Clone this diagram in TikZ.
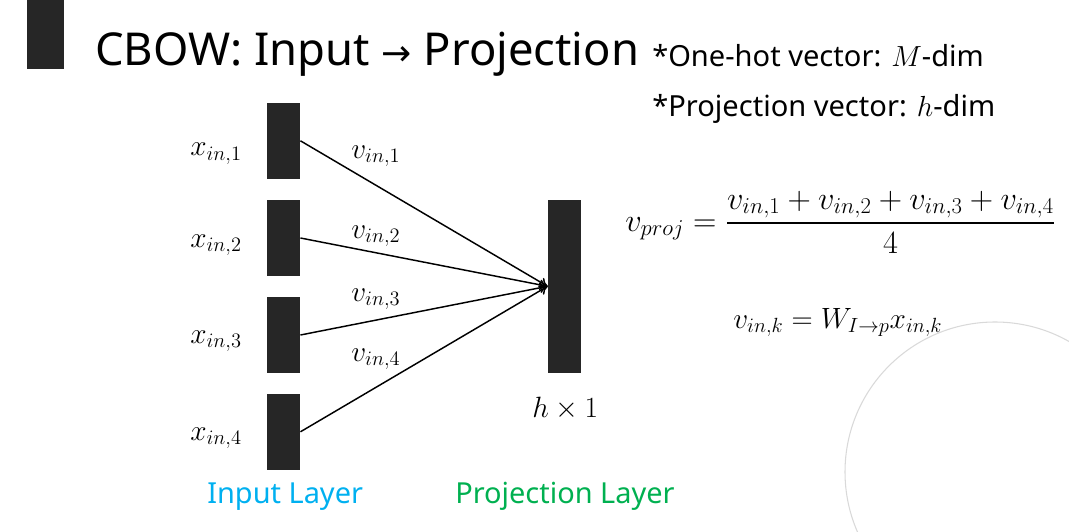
\RequirePackage{fix-cm}
\documentclass[tikz,border=0pt]{standalone}
\usepackage{amsmath}
\usepackage{fontspec}
\setmainfont{Noto Sans}
\newfontfamily\arrowfont{DejaVu Sans}
\usetikzlibrary{arrows.meta}
\definecolor{blk}{HTML}{262626}
\definecolor{incol}{HTML}{00B0F0}
\definecolor{projcol}{HTML}{00B050}
\begin{document}
\begin{tikzpicture}[x=0.75pt,y=-0.75pt,
  bar/.style={draw=none,fill=blk,inner sep=0pt,minimum width=25pt},
  inbar/.style={bar,minimum height=56.6pt},
  conn/.style={line width=1.1pt,-{To[length=6pt,width=8pt]}},
  mlab/.style={font=\fontsize{22}{26}\selectfont,inner sep=0pt,anchor=base west},
  txt/.style={inner sep=0pt,anchor=base west}]
\useasboundingbox (0,0) rectangle (1069,531);
\begin{scope}
\clip (0,0) rectangle (1069,531);
\draw[black!15,line width=0.8pt] (995,472) circle[radius=150];
\end{scope}
% title
\node[bar,minimum width=27.75pt,minimum height=52pt] (tbar) at (45.5,34.5) {};
\node[txt,font=\fontsize{34}{40}\selectfont] (title) at (95,66) {CBOW: Input {\arrowfont\fontsize{27}{30}\selectfont →} Projection};
\node[txt,font=\fontsize{21.8}{24}\selectfont] (n1) at (652,67) {*One-hot vector: $M$-dim};
\node[txt,font=\fontsize{21.8}{24}\selectfont] (n2) at (652,117) {*Projection vector: $h$-dim};
% bars
\node[inbar] (in1) at (283.5,140.8) {};
\node[inbar] (in2) at (283.5,238) {};
\node[inbar] (in3) at (283.5,335) {};
\node[inbar] (in4) at (283.5,431.8) {};
\node[bar,minimum height=129.5pt] (proj) at (564.5,286.3) {};
% connectors
\foreach \i in {1,...,4} \draw[conn] (in\i.east) -- (proj.west);
% labels
\node[mlab] (x1) at (190,156) {$x_{in,1}$};
\node[mlab] (x2) at (190,247) {$x_{in,2}$};
\node[mlab] (x3) at (190,343) {$x_{in,3}$};
\node[mlab] (x4) at (190,440) {$x_{in,4}$};
\node[mlab] (v1) at (351,158) {$v_{in,1}$};
\node[mlab] (v2) at (351,238) {$v_{in,2}$};
\node[mlab] (v3) at (351,301) {$v_{in,3}$};
\node[mlab] (v4) at (351,361) {$v_{in,4}$};
\node[mlab] (hx1) at (532,417) {$h\times 1$};
\node[txt,font=\fontsize{21.7}{26}\selectfont,text=incol] (il) at (207,503) {Input Layer};
\node[txt,font=\fontsize{21.7}{26}\selectfont,text=projcol] (pl) at (455,503) {Projection Layer};
% formulas
\node[inner sep=0pt,anchor=west,font=\fontsize{24.3}{28}\selectfont] (f1) at (625,222) {$v_{proj}=\dfrac{v_{in,1}+v_{in,2}+v_{in,3}+v_{in,4}}{4}$};
\node[mlab] (f2) at (733,328) {$v_{in,k}=W_{I\rightarrow p}x_{in,k}$};
\end{tikzpicture}
\end{document}
